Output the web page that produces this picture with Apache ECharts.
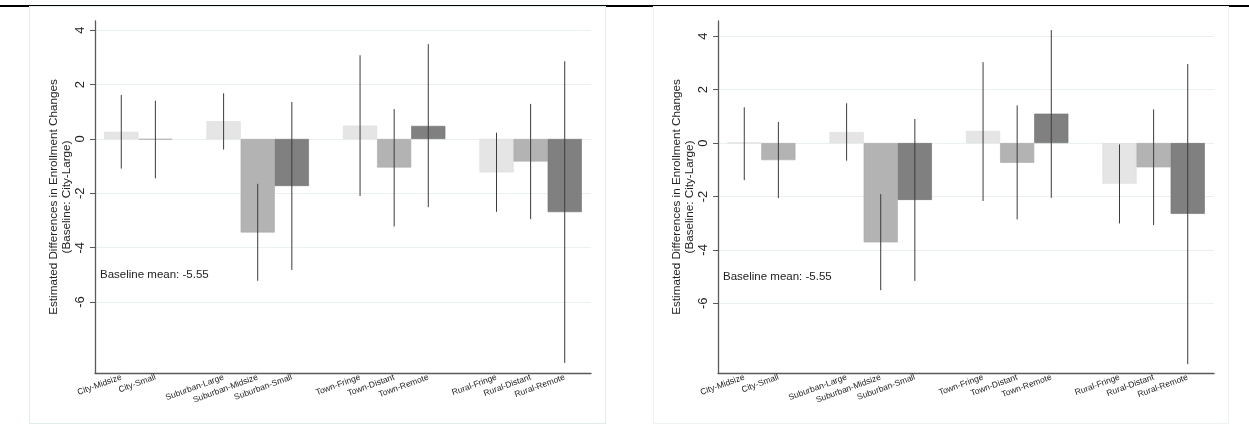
<!DOCTYPE html>
<html>
<head>
<meta charset="utf-8">
<script src="https://cdn.jsdelivr.net/npm/echarts@6/dist/echarts.min.js"></script>
<style>
  html, body { margin: 0; padding: 0; background: #fff; }
  #chart { width: 1249px; height: 430px; }
</style>
</head>
<body>
<div id="chart"></div>
<script type="application/javascript">
// '' marks the empty slot between locale groups
const categories = ['City-Midsize', 'City-Small', '', 'Suburban-Large', 'Suburban-Midsize', 'Suburban-Small', '',
  'Town-Fringe', 'Town-Distant', 'Town-Remote', '', 'Rural-Fringe', 'Rural-Distant', 'Rural-Remote'];

// left panel
const leftEst = [0.26, -0.02, null, 0.65, -3.44, -1.73, null, 0.49, -1.05, 0.48, null, -1.23, -0.83, -2.69];
const leftLo = [-1.09, -1.45, null, -0.39, -5.22, -4.82, null, -2.10, -3.22, -2.51, null, -2.68, -2.95, -8.24];
const leftHi = [1.62, 1.41, null, 1.68, -1.65, 1.36, null, 3.08, 1.10, 3.49, null, 0.23, 1.29, 2.86];

// right panel
const rightEst = [0.01, -0.64, null, 0.41, -3.72, -2.13, null, 0.45, -0.74, 1.10, null, -1.52, -0.91, -2.65];
const rightLo = [-1.39, -2.06, null, -0.66, -5.51, -5.16, null, -2.17, -2.86, -2.05, null, -3.01, -3.07, -8.28];
const rightHi = [1.34, 0.79, null, 1.49, -1.91, 0.90, null, 3.03, 1.41, 4.23, null, -0.05, 1.26, 2.96];

const yTicks = [-6, -4, -2, 0, 2, 4];
const leftRange = [-8.61, 4.34];
const rightRange = [-8.61, 4.57];
const baselineNote = 'Baseline mean: -5.55';
const yTitle = 'Estimated Differences in Enrollment Changes\n(Baseline: City-Large)';

const FONT = 'Liberation Sans, Arial, sans-serif';
const shades = ['#e5e5e5', '#b3b3b3', '#808080'];
const borders = ['#dadada', '#a9a9a9', '#707070'];

const labelIdx = categories.map((c, i) => c ? i : -1).filter(i => i >= 0);

function shadeOf(i) {
  let k = 0;
  while (i - k - 1 >= 0 && categories[i - k - 1]) k++;
  return k;
}

function barData(est) {
  const out = [];
  est.forEach((v, i) => {
    if (v === null) return;
    const s = shadeOf(i);
    out.push({ value: [i, v], itemStyle: { color: shades[s], borderColor: borders[s], borderWidth: 0.6 } });
  });
  return out;
}

function ciData(lo, hi) {
  const out = [];
  lo.forEach((v, i) => {
    if (v === null) return;
    out.push([i, v, hi[i]]);
  });
  return out;
}

function xAxisOf(gridIndex) {
  return {
    type: 'value',
    gridIndex,
    min: -0.77,
    max: 13.77,
    axisLine: { show: true, onZero: false, lineStyle: { color: '#5a5a5a', width: 1.3 } },
    axisTick: { show: false },
    splitLine: { show: false },
    axisLabel: {
      customValues: labelIdx,
      formatter: v => categories[v] || '',
      rotate: 20,
      fontSize: 8.5,
      margin: 4,
      color: '#222',
      fontFamily: FONT
    }
  };
}

function yAxisOf(gridIndex, range) {
  return {
    type: 'value',
    gridIndex,
    min: range[0],
    max: range[1],
    name: yTitle,
    nameLocation: 'middle',
    nameRotate: 90,
    nameGap: 22,
    nameTextStyle: { fontSize: 11.7, color: '#222', lineHeight: 13, fontFamily: FONT },
    axisLine: { show: true, onZero: false, lineStyle: { color: '#5a5a5a', width: 1.3 } },
    axisTick: { show: true, customValues: yTicks, length: 5, lineStyle: { color: '#5a5a5a' } },
    axisLabel: {
      customValues: yTicks,
      rotate: 90,
      fontSize: 13,
      margin: 8,
      color: '#222',
      fontFamily: FONT
    },
    splitLine: { show: true, lineStyle: { color: '#e9f1f1', width: 1 } }
  };
}

function errorSeries(xAxisIndex, yAxisIndex, data) {
  return {
    type: 'custom',
    xAxisIndex,
    yAxisIndex,
    z: 5,
    encode: { x: 0, y: [1, 2] },
    data,
    renderItem(params, api) {
      const x = api.value(0);
      const p1 = api.coord([x, api.value(1)]);
      const p2 = api.coord([x, api.value(2)]);
      return {
        type: 'line',
        shape: { x1: p1[0], y1: p1[1], x2: p2[0], y2: p2[1] },
        style: { stroke: '#3c3c3c', lineWidth: 1 }
      };
    }
  };
}

const chart = echarts.init(document.getElementById('chart'));
chart.setOption({
  animation: false,
  backgroundColor: '#fff',
  grid: [
    { left: 95, top: 21, width: 496, height: 352, outerBoundsMode: 'none' },
    { left: 718, top: 21, width: 496, height: 352, outerBoundsMode: 'none' }
  ],
  xAxis: [xAxisOf(0), xAxisOf(1)],
  yAxis: [yAxisOf(0, leftRange), yAxisOf(1, rightRange)],
  graphic: [
    { type: 'rect', shape: { x: 0, y: 5, width: 1249, height: 1 }, style: { fill: '#000' } },
    { type: 'rect', shape: { x: 0, y: 5, width: 29, height: 2 }, style: { fill: '#000' } },
    { type: 'rect', shape: { x: 606, y: 5, width: 47, height: 2 }, style: { fill: '#000' } },
    { type: 'rect', shape: { x: 1229, y: 5, width: 20, height: 2 }, style: { fill: '#000' } },
    { type: 'rect', shape: { x: 29.5, y: 6.5, width: 576, height: 417 }, style: { fill: 'none', stroke: '#e3ecec', lineWidth: 1 } },
    { type: 'rect', shape: { x: 653.5, y: 6.5, width: 575, height: 417 }, style: { fill: 'none', stroke: '#edf3f3', lineWidth: 1 } },
    { type: 'text', left: 100, top: 269, style: { text: baselineNote, fontSize: 11.5, fill: '#222', fontFamily: FONT } },
    { type: 'text', left: 723, top: 271, style: { text: baselineNote, fontSize: 11.5, fill: '#222', fontFamily: FONT } }
  ],
  series: [
    { type: 'bar', xAxisIndex: 0, yAxisIndex: 0, barWidth: '100%', data: barData(leftEst) },
    errorSeries(0, 0, ciData(leftLo, leftHi)),
    { type: 'bar', xAxisIndex: 1, yAxisIndex: 1, barWidth: '100%', data: barData(rightEst) },
    errorSeries(1, 1, ciData(rightLo, rightHi))
  ]
});
</script>
</body>
</html>
